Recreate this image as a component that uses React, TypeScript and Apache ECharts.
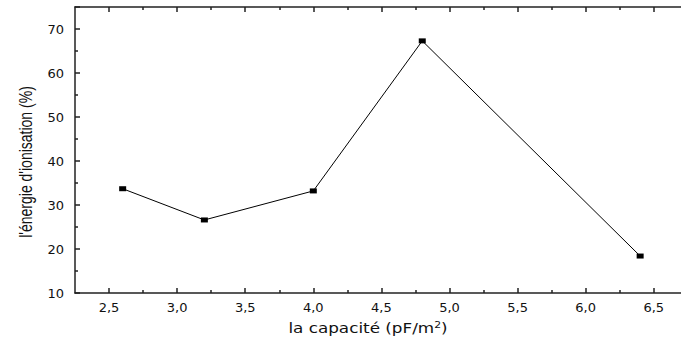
import React, { useEffect, useRef } from "react";
import * as echarts from "echarts";

const capacite = [2.6, 3.2, 4.0, 4.8, 6.4];
const energie = [33.7, 26.6, 33.2, 67.3, 18.4];
const xMajorTicks = [2.5, 3.0, 3.5, 4.0, 4.5, 5.0, 5.5, 6.0, 6.5];
const xMinorTicks = [2.75, 3.25, 3.75, 4.25, 4.75, 5.25, 5.75, 6.25];

const X_MIN = 2.25;
const X_MAX = 6.7;
const Y_MIN = 10;
const Y_MAX = 75;

export default function App() {
  const ref = useRef<HTMLDivElement>(null);
  useEffect(() => {
    if (!ref.current) return;
    const chart = echarts.init(ref.current, null, { renderer: "svg" });
    const lineStyle = { color: "#222", width: 1.5 };
    const baseX = (pos: string, ticks: number[], len: number, showLine: boolean, showLabel: boolean) => ({
      type: "value",
      position: pos,
      min: X_MIN,
      max: X_MAX,
      axisLine: { show: showLine, onZero: false, lineStyle },
      axisTick: { show: true, inside: true, length: len, customValues: ticks, lineStyle: { color: "#222", width: 1.5 } },
      axisLabel: showLabel
        ? {
            show: true,
            customValues: ticks,
            formatter: (v: number) => v.toFixed(1).replace(".", ","),
            margin: 8,
            fontFamily: "DejaVu Sans",
            fontSize: 13,
            color: "#111",
          }
        : { show: false },
      splitLine: { show: false },
    });
    chart.setOption({
      animation: false,
      grid: { left: 75, right: 0, top: 7, bottom: 49 },
      xAxis: [
        baseX("bottom", xMajorTicks, 5, true, true),
        baseX("bottom", xMinorTicks, 3, false, false),
        baseX("top", xMajorTicks, 5, true, false),
        baseX("top", xMinorTicks, 3, false, false),
      ],
      yAxis: {
        type: "value",
        min: Y_MIN,
        max: Y_MAX,
        interval: 10,
        axisLine: { show: true, lineStyle },
        axisTick: { show: true, inside: true, length: 5, lineStyle: { color: "#222", width: 1.5 } },
        minorTick: { show: true, splitNumber: 2, length: 3, lineStyle: { color: "#222", width: 1.5 } },
        axisLabel: {
          margin: 11,
          formatter: (v: number) => (v >= Y_MAX ? "" : String(v)),
          fontFamily: "DejaVu Sans",
          fontSize: 13,
          color: "#111",
        },
        splitLine: { show: false },
      },
      graphic: [
        {
          type: "text",
          x: 26,
          y: 162,
          rotation: Math.PI / 2,
          scaleY: 1.35,
          style: {
            text: "l'énergie d'ionisation (%)",
            fontFamily: "Liberation Sans Narrow, Liberation Sans",
            fontSize: 14,
            fill: "#111",
            align: "center",
            verticalAlign: "middle",
          },
        },
        {
          type: "text",
          x: 368,
          y: 328,
          scaleX: 1.2,
          style: {
            text: "la capacité (pF/m{s|2})",
            rich: { s: { fontSize: 9, verticalAlign: "top", padding: [0, 0, 7, 0], fontFamily: "DejaVu Sans", fill: "#111" } },
            fontFamily: "DejaVu Sans",
            fontSize: 14,
            fill: "#111",
            align: "center",
            verticalAlign: "middle",
          },
        },
      ],
      series: [
        {
          type: "line",
          data: capacite.map((x, i) => [x, energie[i]]),
          symbol: "rect",
          symbolSize: [7, 5],
          itemStyle: { color: "#000" },
          lineStyle: { color: "#000", width: 1 },
          xAxisIndex: 0,
        },
      ],
    });
    return () => chart.dispose();
  }, []);
  return <div ref={ref} style={{ width: 681, height: 342, position: "absolute", left: 0, top: 0 }} />;
}
